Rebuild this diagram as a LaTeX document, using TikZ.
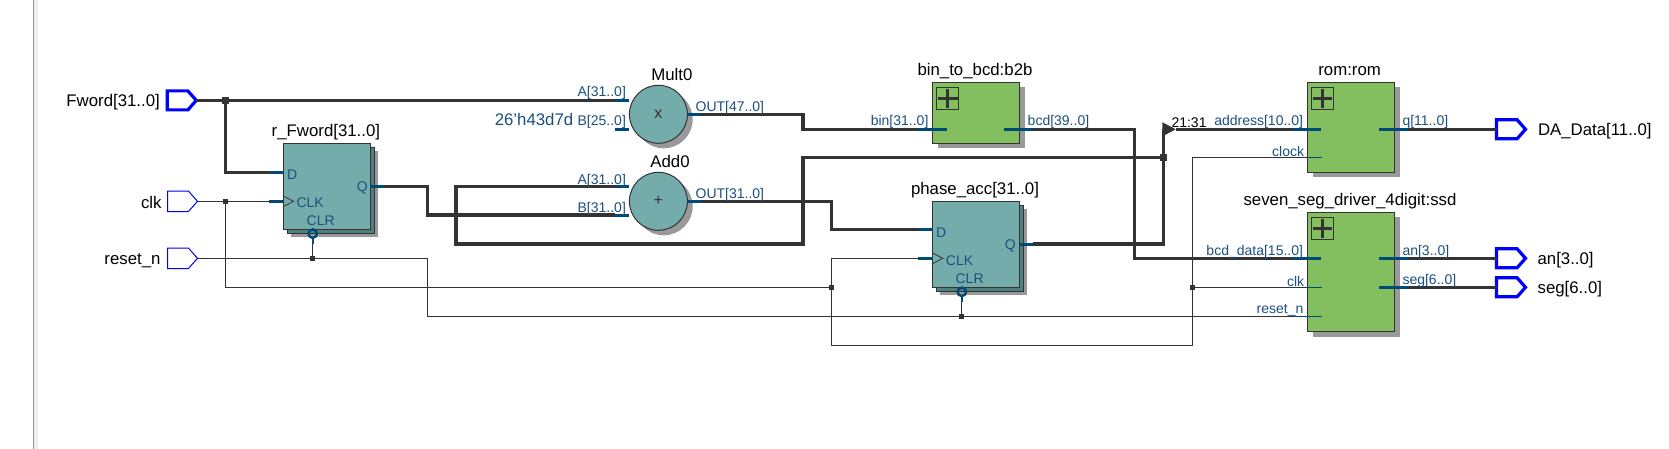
\documentclass[tikz,border=0pt]{standalone}
\usepackage{fontspec}
\setmainfont{Liberation Sans}
\usetikzlibrary{shapes.geometric,shapes.symbols,shadows,arrows.meta,calc}
\definecolor{wirec}{HTML}{333333}
\definecolor{stubc}{HTML}{004A78}
\definecolor{labc}{HTML}{1C5080}
\definecolor{tealc}{HTML}{74ACAC}
\definecolor{tealdk}{HTML}{4F8080}
\definecolor{greenc}{HTML}{84BF5F}
\definecolor{shadc}{HTML}{999999}
\definecolor{portc}{HTML}{0000FF}
\tikzset{
  bus/.style={draw=wirec,line width=3.2pt},
  net/.style={draw=wirec,line width=1pt},
  stubw/.style={draw=stubc,line width=3pt},
  thinstub/.style={draw=stubc,line width=1pt},
  joint/.style={rectangle,fill=wirec,minimum size=6.5pt,inner sep=0pt,outer sep=0pt},
  tjoint/.style={rectangle,fill=wirec,minimum size=4.8pt,inner sep=0pt,outer sep=0pt},
  inport/.style={shape=signal,signal to=east,signal pointer angle=97,draw=portc,fill=white,line width=1pt,minimum width=30pt,minimum height=20.4pt,inner sep=0pt,outer sep=0pt,anchor=east},
  busport/.style={inport,line width=3.2pt,minimum width=29pt,minimum height=19pt},
  nametext/.style={font=\fontsize{16.8}{18}\selectfont,text=black,inner sep=0pt,yshift=-1.3pt},
  pinlab/.style={font=\fontsize{14}{15}\selectfont,text=labc,inner sep=0pt,yshift=-2.2pt},
  fflab/.style={font=\fontsize{14}{16}\selectfont,text=labc,inner sep=0pt,yshift=-1.2pt},
  ffbox/.style={draw=wirec,line width=1pt,fill=tealc,minimum width=87.2pt,minimum height=86pt,inner sep=0pt,outer sep=0pt,
    general shadow={shadow xshift=7.5pt,shadow yshift=-7.3pt,fill=shadc},
    general shadow={shadow xshift=4.2pt,shadow yshift=-4pt,fill=tealdk,draw=wirec,line width=1pt}},
  opnode/.style={shape=circle,draw=wirec,line width=1pt,fill=tealc,minimum size=58pt,inner sep=0pt,outer sep=0pt,text=wirec,font=\fontsize{16}{18}\selectfont,
    general shadow={shadow xshift=5.3pt,shadow yshift=-5pt,fill=shadc}},
  modbox/.style={draw=wirec,line width=1pt,fill=greenc,minimum width=87.1pt,inner sep=0pt,outer sep=0pt,
    general shadow={shadow xshift=5.4pt,shadow yshift=-5pt,fill=shadc}},
  plusbox/.style={draw=wirec,line width=0.8pt,minimum width=21.8pt,minimum height=21.6pt,inner sep=0pt,outer sep=0pt,
    path picture={\draw[wirec,line width=2.6pt]
      ([xshift=1pt]path picture bounding box.west)--([xshift=-1pt]path picture bounding box.east)
      ([yshift=-1pt]path picture bounding box.north)--([yshift=1pt]path picture bounding box.south);}},
  bubble/.style={circle,draw=stubc,line width=2.4pt,fill=none,minimum size=8.5pt,inner sep=0pt,outer sep=0pt},
  clockmark/.style={draw=wirec,line width=0.8pt},
}
\begin{document}
\begin{tikzpicture}[x=1pt,y=-1pt]
\useasboundingbox (0,0) rectangle (1669,449);
\fill[white] (0,0) rectangle (1669,449);
\fill[black!6] (33.5,0) rectangle (37.5,449);
\fill[gray!85] (32.6,0) rectangle (33.8,449);

% ports
\node[busport] (pF) at (196.3,100.4) {};
\node[inport] (pC) at (197.5,201.3) {};
\node[inport] (pR) at (197.5,258.3) {};
\node[busport] (pDA) at (1525.5,129.3) {};
\node[busport] (pAN) at (1525.5,258.3) {};
\node[busport] (pSEG) at (1525.5,287.3) {};

% blocks
\node[ffbox] (rF) at (326.8,186.3) {};
\node[ffbox] (ph) at (976.05,244.5) {};
\node[opnode] (mul) at (658.4,114.3) {\raisebox{-1.8pt}{x}};
\node[opnode] (add) at (658.4,201.3) {\raisebox{-1.8pt}{+}};
\node[modbox,minimum height=61pt] (b2b) at (976.05,112.8) {};
\node[modbox,minimum height=90pt] (rom) at (1351,127.3) {};
\node[modbox,minimum height=119.4pt] (ssd) at (1351,272) {};
\node[plusbox] (pb1) at (947.7,98.5) {};
\node[plusbox] (pb2) at (1322.4,98.5) {};
\node[plusbox] (pb3) at (1322.4,228.5) {};

% clock marks
\draw[clockmark] (283.2,196) -- (293.6,201.3) -- (283.2,206.7);
\draw[clockmark] (932.5,253) -- (942.9,258.3) -- (932.5,263.7);

% pins (outer ends of stubs)
\coordinate (rFD) at (268.9,172.3);  \coordinate (rFDi) at (283.2,172.3);
\coordinate (rFC) at (268.9,201.3);  \coordinate (rFCi) at (283.2,201.3);
\coordinate (rFQ) at (383.9,186.3);  \coordinate (rFQi) at (370.4,186.3);
\coordinate (phD) at (918.2,229.3);  \coordinate (phDi) at (932.5,229.3);
\coordinate (phC) at (918.2,258.3);  \coordinate (phCi) at (932.5,258.3);
\coordinate (phQ) at (1032.5,244);   \coordinate (phQi) at (1019.6,244);
\coordinate (mA) at (615,100.4);     \coordinate (mAi) at (629.4,100.4);
\coordinate (mB) at (615,129.3);     \coordinate (mBi) at (629,129.3);
\coordinate (mO) at (701,114.3);     \coordinate (mOi) at (687.4,114.3);
\coordinate (aA) at (615,186.3);     \coordinate (aAi) at (629.4,186.3);
\coordinate (aB) at (615,215);       \coordinate (aBi) at (629,215);
\coordinate (aO) at (701,201.3);     \coordinate (aOi) at (687.4,201.3);
\coordinate (bI) at (918.2,129.3);   \coordinate (bIi) at (946.8,129.3);
\coordinate (bO) at (1032.5,129.3);  \coordinate (bOi) at (1003.9,129.3);
\coordinate (rA) at (1292.9,129.3);  \coordinate (rAi) at (1321,129.3);
\coordinate (rK) at (1307.5,157.3);  \coordinate (rKi) at (1322,157.3);
\coordinate (rO) at (1407.7,129.3);  \coordinate (rOi) at (1379.2,129.3);
\coordinate (sB) at (1292.9,258.3);  \coordinate (sBi) at (1321,258.3);
\coordinate (sK) at (1307.5,287.3);  \coordinate (sKi) at (1322,287.3);
\coordinate (sR) at (1292.9,316.3);  \coordinate (sRi) at (1322,316.3);
\coordinate (sA) at (1407.7,258.3);  \coordinate (sAi) at (1379.2,258.3);
\coordinate (sS) at (1407.7,287.3);  \coordinate (sSi) at (1379.2,287.3);

% junctions
\node[joint] (jF) at (225.4,100.4) {};
\node[tjoint] (jC) at (225.4,201.3) {};
\node[tjoint] (jR) at (312.5,258.3) {};
\node[tjoint] (jC2) at (831.4,287.3) {};
\node[tjoint] (jR2) at (961.4,316.3) {};
\node[tjoint] (jC3) at (1192.4,287.3) {};
\node[joint] (jS) at (1163.5,157.3) {};
\coordinate (tip) at (1176,129.3);

\node[bubble] (bubR) at (312.7,233.6) {};
\node[bubble] (bubP) at (961.8,291.8) {};

% thin nets
\draw[net] (pC.east) -- (jC) -- (rFC);
\draw[net] (jC) |- (jC2);
\draw[net] (jC2) |- (phC);
\draw[net] (jC2) |- (1192.4,345.3) -- (jC3);
\draw[net] (jC3) |- (rK);
\draw[net] (jC3) -- (sK);
\draw[net] (pR.east) -- (jR) -| (427.5,316.3) -- (jR2) -- (sR);
\draw[net] (jR) -- ++(0,-14);
\draw[net] (jR2) -- ++(0,-14);

% buses
\draw[bus] (pF.east) -- (jF) -- (mA);
\draw[bus] (jF) |- (rFD);
\draw[bus] (rFQ) -- (427.5,186.3) |- (aB);
\draw[bus] (aA) -- (456,186.3) |- (802.9,244) |- (jS);
\draw[bus] (mO) -- (802.9,114.3) |- (bI);
\draw[bus] (aO) -- (831.4,201.3) |- (phD);
\draw[bus] (bO) -- (1134.6,129.3) |- (sB);
\draw[bus] (phQ) -- (1163.5,244) -- (jS);
\draw[bus,-{Triangle[length=13.6pt,width=13pt]}] (jS) -- (1163.5,129.3) -- (tip);
\draw[bus] (tip) -- (rA);
\draw[bus] (rO) -- (pDA.west);
\draw[bus] (sA) -- (pAN.west);
\draw[bus] (sS) -- (pSEG.west);

% stubs
\foreach \a/\b in {rFD/rFDi,rFC/rFCi,rFQ/rFQi,phD/phDi,phC/phCi,phQ/phQi,mA/mAi,mB/mBi,mO/mOi,aA/aAi,aB/aBi,aO/aOi,bI/bIi,bO/bOi,rA/rAi,rO/rOi,sB/sBi,sA/sAi,sS/sSi}
  \draw[stubw] (\a) -- (\b);
\foreach \a/\b in {rK/rKi,sK/sKi,sR/sRi}
  \draw[thinstub] (\a) -- (\b);
\draw[stubw,line width=2.4pt] (312.7,238) -- (312.7,244);
\draw[stubw,line width=2.4pt] (961.8,296.2) -- (961.8,302);

% names
\node[nametext,anchor=east] (tF) at (160,101) {Fword[31..0]};
\node[nametext,anchor=east] (tC) at (161.8,201.5) {clk};
\node[nametext,anchor=east] (tR) at (160.7,259) {reset\_n};
\node[nametext] (trF) at (325.9,131) {r\_Fword[31..0]};
\node[nametext,text=labc,anchor=west] (tK) at (494.6,118) {26'h43d7d};
\node[nametext] (tM) at (671.8,72.7) {Mult0};
\node[nametext] (tA) at (670,160) {Add0};
\node[nametext] (tB) at (975,70) {bin\_to\_bcd:b2b};
\node[nametext] (tP) at (975,189.3) {phase\_acc[31..0]};
\node[nametext] (tRo) at (1349.6,70) {rom:rom};
\node[nametext] (tS) at (1350,200.3) {seven\_seg\_driver\_4digit:ssd};
\node[nametext,anchor=west] (tDA) at (1537.8,130) {DA\_Data[11..0]};
\node[nametext,anchor=west] (tAN) at (1537.4,259) {an[3..0]};
\node[nametext,anchor=west] (tSG) at (1537.4,288) {seg[6..0]};

% flip-flop pin labels
\node[fflab,anchor=west] (l1) at (286.8,173) {D};
\node[fflab,anchor=east] (l2) at (367.9,187) {Q};
\node[fflab,anchor=west] (l3) at (296.4,201.3) {CLK};
\node[fflab] (l4) at (320.7,219) {CLR};
\node[fflab,anchor=west] (l5) at (936,231) {D};
\node[fflab,anchor=east] (l6) at (1016,245) {Q};
\node[fflab,anchor=west] (l7) at (945.7,259) {CLK};
\node[fflab] (l8) at (969.6,277) {CLR};

% port labels
\node[pinlab,anchor=east] (p1) at (626.1,91) {A[31..0]};
\node[pinlab,anchor=east] (p2) at (626.1,120) {B[25..0]};
\node[pinlab,anchor=east] (p3) at (626.1,178.3) {A[31..0]};
\node[pinlab,anchor=east] (p4) at (626.1,207) {B[31..0]};
\node[pinlab,anchor=west] (p5) at (695.4,106) {OUT[47..0]};
\node[pinlab,anchor=west] (p6) at (695.4,193) {OUT[31..0]};
\node[pinlab,anchor=east] (p7) at (928.6,120) {bin[31..0]};
\node[pinlab,anchor=west] (p8) at (1027.5,120) {bcd[39..0]};
\node[pinlab,text=black,anchor=west] (p9) at (1171.3,120) {21:31};
\node[pinlab,anchor=east] (p10) at (1303.2,120) {address[10..0]};
\node[pinlab,anchor=east] (p11) at (1304.3,149) {clock};
\node[pinlab,anchor=west] (p12) at (1402.3,120) {q[11..0]};
\node[pinlab,anchor=east] (p13) at (1303.2,250) {bcd\_data[15..0]};
\node[pinlab,anchor=east] (p14) at (1304.3,279) {clk};
\node[pinlab,anchor=east] (p15) at (1303.6,308) {reset\_n};
\node[pinlab,anchor=west] (p16) at (1402.3,250) {an[3..0]};
\node[pinlab,anchor=west] (p17) at (1402.3,279) {seg[6..0]};
\end{tikzpicture}
\end{document}
